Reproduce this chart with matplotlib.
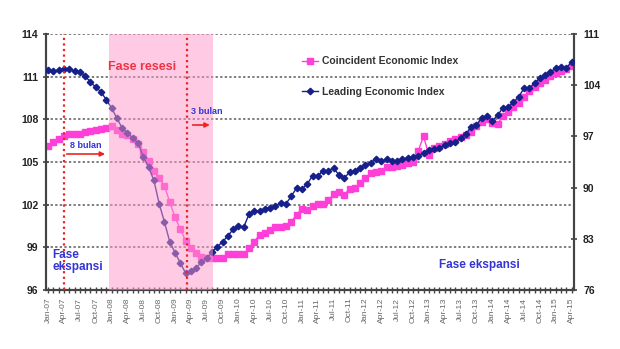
import matplotlib
matplotlib.use("Agg")
import matplotlib.pyplot as plt
import numpy as np

# ---- data (monthly, Jan-07 .. Apr-15) ----
coincident = [106.1, 106.4, 106.6, 106.8, 107.0, 107.0, 107.0, 107.1, 107.2, 107.25,
              107.3, 107.4, 107.5, 107.25, 107.0, 106.9, 106.6, 106.3, 105.7, 105.1,
              104.4, 103.9, 103.3, 102.2, 101.1, 100.3, 99.45, 98.95, 98.6, 98.3,
              98.25, 98.25, 98.25, 98.25, 98.5, 98.5, 98.5, 98.5, 98.95, 99.4,
              99.9, 100.0, 100.2, 100.4, 100.4, 100.5, 100.8, 101.3, 101.7, 101.6,
              101.9, 102.05, 102.05, 102.3, 102.75, 102.9, 102.7, 103.1, 103.2, 103.5,
              103.9, 104.2, 104.3, 104.4, 104.65, 104.65, 104.7, 104.8, 104.9, 105.0,
              105.8, 106.8, 105.5, 106.0, 106.1, 106.3, 106.5, 106.6, 106.75, 106.9,
              107.1, 107.5, 107.8, 108.0, 107.75, 107.7, 108.2, 108.5, 108.9, 109.15,
              109.6, 110.0, 110.3, 110.55, 110.8, 111.05, 111.25, 111.4, 111.55, 111.75]

leading = [106.1, 105.9, 106.1, 106.2, 106.2, 105.9, 105.8, 105.3, 104.4, 103.75,
           103.1, 102.0, 100.9, 99.5, 98.15, 97.5, 96.8, 96.1, 94.2, 92.8,
           91.0, 87.8, 85.3, 82.6, 81.1, 79.7, 78.3, 78.6, 79.0, 79.8,
           80.4, 81.2, 81.9, 82.6, 83.4, 84.3, 84.75, 84.6, 86.4, 86.8,
           86.8, 87.1, 87.2, 87.5, 87.9, 87.8, 88.85, 89.95, 89.8, 90.5,
           91.6, 91.6, 92.3, 92.3, 92.7, 91.7, 91.3, 92.1, 92.3, 92.7,
           93.1, 93.4, 93.9, 93.6, 93.9, 93.6, 93.6, 93.9, 94.05, 94.2,
           94.3, 94.7, 95.1, 95.3, 95.4, 95.8, 96.1, 96.2, 96.8, 97.3,
           98.3, 98.6, 99.5, 99.8, 99.1, 99.9, 100.9, 101.0, 101.7, 102.4,
           103.6, 103.6, 104.3, 105.0, 105.4, 105.8, 106.35, 106.5, 106.35, 107.2]

tick_months = ["Jan", "Apr", "Jul", "Oct"]
tick_years = ["07", "08", "09", "10", "11", "12", "13", "14", "15"]
tick_labels = [f"{m}-{y}" for y in tick_years for m in tick_months][:34]

left_ticks = [96, 99, 102, 105, 108, 111, 114]
right_ticks = [76, 83, 90, 97, 104, 111]

recession_start, recession_end = 11.6, 31.1   # shaded "Fase resesi"
marker_lines = [3.0, 26.2]                     # red dotted lines
n = len(coincident)
x = np.arange(n)

# ---- figure ----
fig = plt.figure(figsize=(6.2, 3.49), dpi=100)
ax = fig.add_axes([46 / 620, 1 - 290 / 349, (574 - 46) / 620, 256 / 349])
ax2 = ax.twinx()

mag = "#ff3fd8"
navy = "#16208a"

ax.plot(x, coincident, color=mag, lw=1.0, marker="s", ms=4.2, mec=mag, mfc=mag,
        label="Coincident Economic Index", zorder=3)
ax2.plot(x, leading, color=navy, lw=1.0, marker="D", ms=3.3, mec=navy, mfc=navy,
         label="Leading Economic Index", zorder=3)

ax.set_xlim(-0.4, 99.45)
ax.set_ylim(96, 114)
ax2.set_ylim(76, 111)

# grid
for v in left_ticks[1:]:
    ax.axhline(v, color="#5a5a5a", lw=1.1, ls=(0, (1.5, 1.5)), zorder=1)

# shading & markers on top axes
ax2.axvspan(recession_start, recession_end, color="#ff96c8", alpha=0.5, lw=0, zorder=5)
for m in marker_lines:
    ax2.axvline(m, color="#ee2222", lw=1.6, ls=(0, (1, 1.5)), zorder=6)

# axes styling
for a in (ax, ax2):
    a.spines["top"].set_visible(False)
    for s in ("left", "right", "bottom"):
        a.spines[s].set_color("#444444")
        a.spines[s].set_linewidth(1.5)

ax.set_yticks(left_ticks)
ax.set_yticklabels([str(t) for t in left_ticks], fontsize=7.5, fontweight="bold",
                   color="#222222", family="Liberation Sans")
ax2.set_yticks(right_ticks)
ax2.set_yticklabels([str(t) for t in right_ticks], fontsize=7.5, fontweight="bold",
                    color="#222222", family="Liberation Sans")
ax.tick_params(axis="y", direction="inout", length=5, width=1.2, color="#444444", pad=3)
ax2.tick_params(axis="y", direction="inout", length=5, width=1.2, color="#444444", pad=4)

ax.set_xticks(np.arange(0, n, 3))
ax.set_xticklabels(tick_labels, rotation=90, fontsize=6, color="#666666",
                   family="Liberation Sans")
ax.set_xticks(np.arange(n), minor=True)
ax.tick_params(axis="x", which="both", direction="inout", length=5, width=1.0,
               color="#444444", pad=3)

# legend
leg = ax2.legend(handles=[ax.lines[0], ax2.lines[0]], loc="upper left",
                 bbox_to_anchor=(0.468, 0.95), frameon=False, handlelength=1.5,
                 handletextpad=0.4, labelspacing=2.0,
                 prop={"family": "Liberation Sans", "weight": "bold", "size": 7.5})
for t in leg.get_texts():
    t.set_color("#333333")
leg.set_zorder(10)

# annotations
red = "#ee3344"
blue = "#3535d5"
fig.text(142 / 620, 1 - 67 / 349, "Fase resesi", color=red, fontsize=9, fontweight="bold",
         ha="center", va="center", family="Liberation Sans", zorder=10)
fig.text(86 / 620, 1 - 145 / 349, "8 bulan", color=blue, fontsize=6.5, fontweight="bold",
         ha="center", va="center", family="Liberation Sans", zorder=10)
fig.text(207 / 620, 1 - 112 / 349, "3 bulan", color=blue, fontsize=6.5, fontweight="bold",
         ha="center", va="center", family="Liberation Sans", zorder=10)
fig.text(52 / 620, 1 - 261 / 349, "Fase\nekspansi", color=blue, fontsize=8.5,
         fontweight="bold", ha="left", va="center", family="Liberation Sans",
         linespacing=1.0, zorder=10)
fig.text(479 / 620, 1 - 265 / 349, "Fase ekspansi", color=blue, fontsize=8.5,
         fontweight="bold", ha="center", va="center", family="Liberation Sans", zorder=10)

arrow_kw = dict(arrowstyle="-|>", color="#ee2222", lw=1.2, mutation_scale=7)
ax2.annotate("", xy=(recession_start - 0.3, 1 - 154 / 349),
             xytext=(marker_lines[0], 1 - 154 / 349),
             xycoords=("data", "figure fraction"), textcoords=("data", "figure fraction"),
             arrowprops=arrow_kw, zorder=10)
ax2.annotate("", xy=(recession_end, 1 - 125 / 349),
             xytext=(marker_lines[1] + 0.6, 1 - 125 / 349),
             xycoords=("data", "figure fraction"), textcoords=("data", "figure fraction"),
             arrowprops=arrow_kw, zorder=10)

fig.savefig("out.png", dpi=100)
